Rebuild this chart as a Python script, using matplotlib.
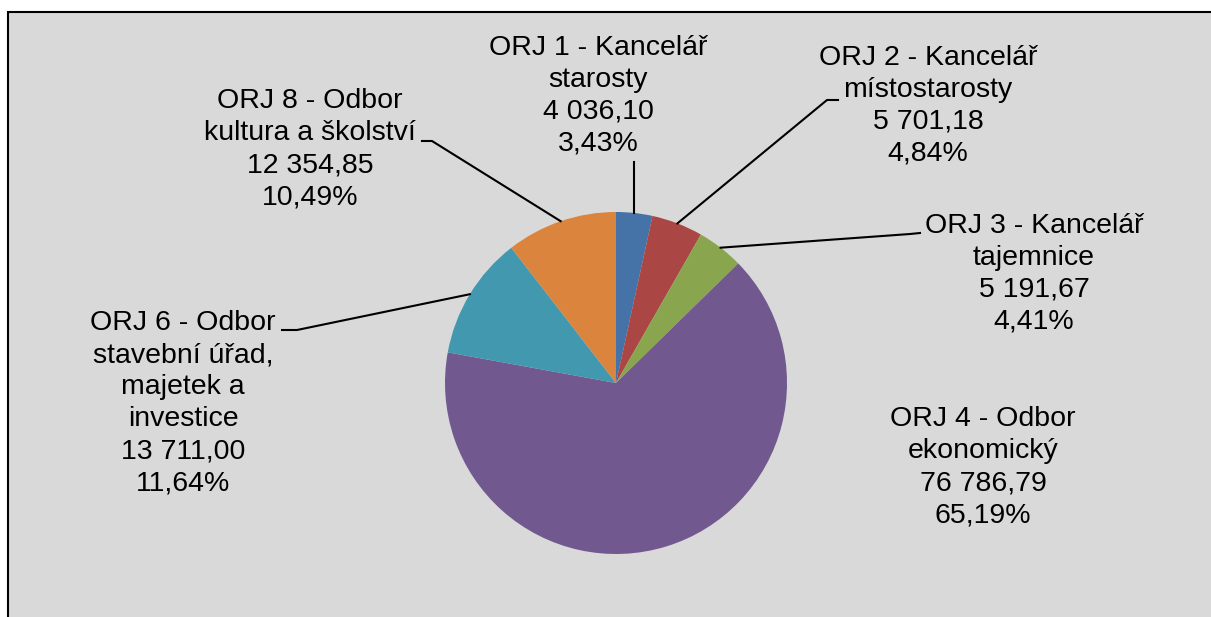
import numpy as np
import matplotlib.pyplot as plt
from matplotlib.patches import Rectangle

plt.rcParams['font.family'] = ['Liberation Sans', 'DejaVu Sans']

# Data
nazvy = ['ORJ 1 - Kancelář\nstarosty',
         'ORJ 2 - Kancelář\nmístostarosty',
         'ORJ 3 - Kancelář\ntajemnice',
         'ORJ 4 - Odbor\nekonomický',
         'ORJ 6 - Odbor\nstavební úřad,\nmajetek a\ninvestice',
         'ORJ 8 - Odbor\nkultura a školství']
hodnoty = [4036.10, 5701.18, 5191.67, 76786.79, 13711.00, 12354.85]
barvy = ['#4572A7', '#AA4643', '#89A54E', '#71588F', '#4198AF', '#DB843D']

W, H = 1211, 617


def Y(py):
    # pixel coordinates measured from top -> data coords
    return H - py


def cz(v):
    return f"{v:,.2f}".replace(',', ' ').replace('.', ',')


fig = plt.figure(figsize=(W / 100, H / 100), dpi=100)
ax = fig.add_axes([0, 0, 1, 1])

# gray plot area with black frame (only top/left visible)
ax.add_patch(Rectangle((8, Y(800)), 1500, 800 - 12, facecolor='#d9d9d9',
                       edgecolor='black', linewidth=1.5, zorder=0))

cx, cy, r = 616, Y(383), 171
wedges, _ = ax.pie(hodnoty, colors=barvy, startangle=90, counterclock=False,
                   center=(cx, cy), radius=r, wedgeprops=dict(linewidth=0))
for w in wedges:
    w.set_zorder(2)

ax.set_xlim(0, W)
ax.set_ylim(0, H)
ax.set_aspect('equal')
ax.axis('off')

# label positions (block centre) and leader lines (anchor, elbow)
pozice = [(598, 96), (928, 106), (1034, 274), (983, 467), (183, 403), (310, 149)]
vodici = [[(634, 162)],
          [(838, 100), (827, 100)],
          [(920, 233), (910, 234)],
          None,
          [(282, 330), (297, 330)],
          [(422, 141), (432, 141)]]

celkem = sum(hodnoty)
kum = np.cumsum([0] + hodnoty)
for i, (nazev, v) in enumerate(zip(nazvy, hodnoty)):
    pct = v / celkem * 100
    txt = f"{nazev}\n{cz(v)}\n{pct:.2f}".replace('.', ',') + '%'
    tx, ty = pozice[i]
    ax.text(tx, Y(ty), txt, ha='center', va='center', multialignment='center',
            fontsize=20.5, linespacing=1.3, color='black', zorder=4)
    if vodici[i] is not None:
        mid = np.deg2rad((kum[i] + v / 2) / celkem * 360)
        ex, ey = cx + r * np.sin(mid), cy + r * np.cos(mid)
        pts = [(px, Y(py)) for px, py in vodici[i]] + [(ex, ey)]
        if len(vodici[i]) == 1:
            pts = [(pts[0][0], pts[0][1]), (pts[0][0], ey)]
        xs, ys = zip(*pts)
        ax.plot(xs, ys, color='black', linewidth=1.5, zorder=3)

fig.savefig('out.png', dpi=100)
